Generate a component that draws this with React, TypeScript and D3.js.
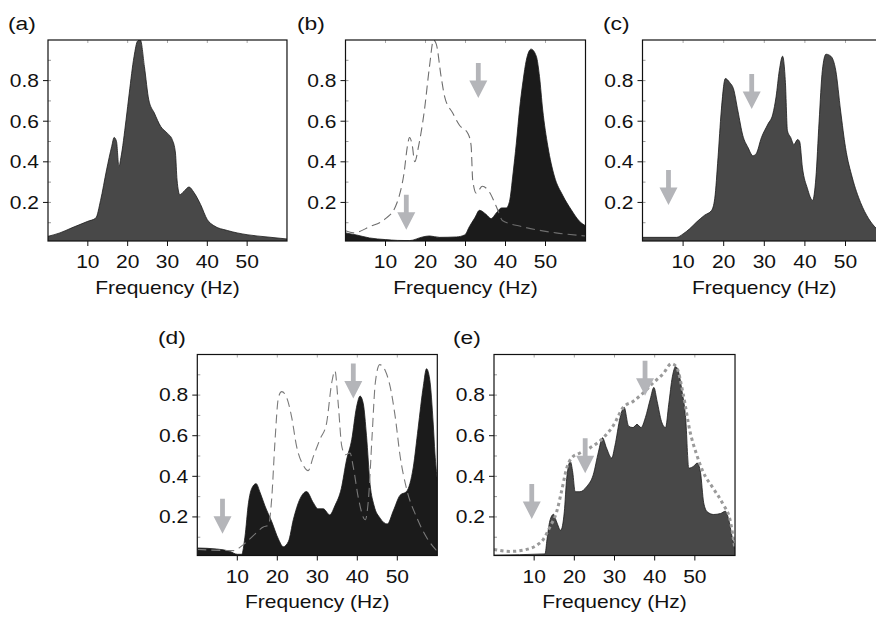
import React from "react";
import * as d3 from "d3";

// ---------- data ----------
const FREQ_TICKS = [10, 20, 30, 40, 50];
const VAL_TICKS = [0.2, 0.4, 0.6, 0.8];
const MINOR_VAL_TICKS = [0.1, 0.3, 0.5, 0.7, 0.9];
const FREQ_LABEL = "Frequency (Hz)";

// (a)
const aHz = [0, 3, 6, 10, 12, 13.2, 14.7, 16, 16.6, 17.2, 17.8, 18.3, 19.6, 20.4, 21.6, 22.5, 23.2, 24.2, 25.3, 26.7, 28.3, 30, 31.2, 32, 32.4, 33.1, 34.1, 35.4, 36.6, 38.3, 40, 41.6, 45, 50, 55, 60];
const aVal = [0.033, 0.05, 0.075, 0.107, 0.123, 0.21, 0.36, 0.476, 0.52, 0.5, 0.377, 0.42, 0.607, 0.738, 0.918, 0.995, 1.0, 0.87, 0.705, 0.64, 0.574, 0.54, 0.509, 0.443, 0.31, 0.238, 0.254, 0.276, 0.25, 0.19, 0.115, 0.086, 0.062, 0.041, 0.03, 0.02];

// (b)
const bHz = [0, 2.7, 6, 10, 13, 16, 19.3, 21, 23.5, 27.7, 29.8, 31, 32.3, 33.5, 35.2, 36.4, 37.7, 39, 40.2, 41, 41.9, 42.7, 43.5, 44.4, 45.2, 46.4, 47.7, 48.5, 49.3, 50.6, 52.2, 54.3, 56.4, 58.5, 60];
const bVal = [0.05, 0.04, 0.025, 0.017, 0.013, 0.012, 0.03, 0.035, 0.028, 0.03, 0.04, 0.082, 0.123, 0.161, 0.14, 0.12, 0.148, 0.173, 0.173, 0.205, 0.345, 0.49, 0.656, 0.8, 0.9, 0.955, 0.92, 0.82, 0.656, 0.475, 0.33, 0.235, 0.165, 0.107, 0.085];
const bRefHz = [0, 2, 6, 10, 12.5, 13.4, 14.6, 15.5, 16, 16.7, 17.3, 18.3, 19.7, 21, 22, 22.7, 23.9, 24.8, 26.8, 28.5, 30.6, 31.4, 31.8, 32.7, 34.2, 36, 37.7, 39.3, 44.3, 52.6, 60];
const bRefVal = [0.06, 0.05, 0.08, 0.12, 0.18, 0.23, 0.34, 0.48, 0.52, 0.48, 0.4, 0.48, 0.65, 0.87, 1.0, 0.98, 0.82, 0.72, 0.64, 0.58, 0.54, 0.48, 0.31, 0.245, 0.28, 0.25, 0.18, 0.11, 0.08, 0.05, 0.035];
const bArrowHz = [15.2, 33.2];
const bArrowTip = [0.066, 0.714];

// (c)
const cHz = [0, 8.4, 10, 11.6, 13.3, 15.3, 17, 17.8, 18.6, 19.4, 20.4, 21.5, 22.4, 23.5, 24.7, 26, 27.2, 28, 29.3, 30.9, 32.1, 32.9, 33.7, 34.5, 35.2, 35.7, 36.5, 37.3, 38.2, 38.7, 39.4, 40.6, 41.9, 42.7, 43.5, 44.3, 45.2, 46.4, 47.6, 48.8, 50, 51.7, 53.7, 55.7, 57.2, 60];
const cVal = [0.028, 0.028, 0.045, 0.07, 0.103, 0.137, 0.16, 0.22, 0.42, 0.65, 0.81, 0.79, 0.76, 0.65, 0.53, 0.47, 0.43, 0.44, 0.52, 0.586, 0.635, 0.72, 0.85, 0.92, 0.79, 0.553, 0.52, 0.485, 0.51, 0.5, 0.37, 0.27, 0.21, 0.32, 0.6, 0.85, 0.93, 0.92, 0.85, 0.65, 0.47, 0.32, 0.2, 0.12, 0.08, 0.04];
const cArrowHz = [6.4, 26.9];
const cArrowTip = [0.187, 0.66];

// (d)
const dHz = [0, 4.8, 8.2, 10, 11.1, 11.9, 12.8, 13.6, 14.7, 15.7, 16.9, 18.6, 20.3, 21.5, 22.8, 24, 25.7, 27.3, 29, 30.2, 31.5, 33.1, 34.4, 36, 37.3, 38.6, 39.8, 40.7, 41.5, 42.3, 43.2, 44.2, 45.7, 47.5, 49, 50.7, 52.3, 54, 55.2, 56.5, 57.3, 58.1, 59, 59.4, 60];
const dVal = [0.047, 0.042, 0.03, 0.016, 0.016, 0.1, 0.27, 0.34, 0.364, 0.32, 0.255, 0.177, 0.09, 0.053, 0.08, 0.186, 0.29, 0.325, 0.27, 0.24, 0.24, 0.21, 0.255, 0.34, 0.48, 0.58, 0.74, 0.795, 0.757, 0.6, 0.36, 0.255, 0.194, 0.165, 0.23, 0.307, 0.325, 0.445, 0.636, 0.843, 0.93, 0.878, 0.653, 0.515, 0.38];
const dRefHz = [0, 9, 11.6, 14, 16.5, 17.8, 18.6, 19.4, 20.3, 21.1, 22.3, 23.6, 24.8, 26.5, 27.7, 29, 30.7, 32.3, 33.6, 34.4, 35.3, 36.1, 37, 38.2, 39, 40.3, 42, 42.8, 43.7, 44.5, 45.6, 47, 48.2, 49.5, 50.7, 52.3, 54.8, 57.3, 60];
const dRefVal = [0.04, 0.034, 0.065, 0.108, 0.15, 0.16, 0.29, 0.566, 0.79, 0.817, 0.79, 0.69, 0.55, 0.454, 0.428, 0.497, 0.584, 0.66, 0.86, 0.92, 0.74, 0.55, 0.506, 0.515, 0.445, 0.29, 0.186, 0.29, 0.6, 0.86, 0.95, 0.92, 0.843, 0.69, 0.5, 0.34, 0.2, 0.1, 0.03];
const dArrowHz = [6.3, 39];
const dArrowTip = [0.117, 0.783];

// (e)
const eHz = [0, 12.7, 13.2, 13.9, 14.8, 15.6, 16.6, 17.5, 18.1, 19, 19.6, 20.2, 21.4, 23.1, 24.7, 26, 27, 28, 29.3, 30.1, 31.4, 32.4, 33.5, 34.6, 35.6, 36.6, 37.7, 38.9, 39.8, 40.6, 41.7, 42.7, 43.5, 44.4, 45.2, 46, 46.8, 47.7, 48.5, 49.7, 50.6, 51.4, 52.2, 53.1, 54.7, 56.4, 57.6, 58.4, 59.2, 60];
const eVal = [0.012, 0.018, 0.09, 0.18, 0.213, 0.175, 0.134, 0.225, 0.39, 0.473, 0.42, 0.324, 0.324, 0.35, 0.407, 0.52, 0.59, 0.54, 0.49, 0.55, 0.69, 0.74, 0.647, 0.64, 0.656, 0.64, 0.69, 0.78, 0.838, 0.77, 0.67, 0.64, 0.755, 0.89, 0.94, 0.91, 0.82, 0.69, 0.44, 0.45, 0.465, 0.42, 0.27, 0.225, 0.212, 0.217, 0.228, 0.19, 0.11, 0.042];
const eRefHz = [0, 4, 8.1, 10.6, 12.3, 13.9, 15.6, 16.8, 18.1, 19.3, 21.4, 23.9, 27.2, 29.7, 32.2, 34.7, 37.1, 39.6, 42.1, 44.2, 45.4, 47.1, 48.8, 50.4, 52.1, 54.6, 57.1, 58.7, 60];
const eRefVal = [0.04, 0.03, 0.04, 0.06, 0.09, 0.15, 0.225, 0.325, 0.44, 0.49, 0.515, 0.54, 0.59, 0.65, 0.74, 0.77, 0.81, 0.86, 0.905, 0.955, 0.94, 0.805, 0.62, 0.51, 0.42, 0.34, 0.26, 0.19, 0.04];
const eArrowHz = [9.4, 22.7, 37.6];
const eArrowTip = [0.19, 0.415, 0.797];

// ---------- styling / layout ----------
const W = 876;
const H = 620;
const FONT = "'Liberation Sans', Arial, Helvetica, sans-serif";
const STRETCH = 1.2;
const Y_MIN = 0.01;
const GREY_FILL = "#484848";
const BLACK_FILL = "#1b1b1b";
const ARROW = "#b4b5b9";

type RefStyle = { color: string; width: number; dash: string; cap: "butt" | "round" | "square" };

type Spec = {
  id: string;
  label: string;
  labelX: number;
  labelY: number;
  left: number;
  top: number;
  pxPerHz: number;
  height: number;
  fillHz: number[];
  fillVal: number[];
  fillColor: string;
  refHz?: number[];
  refVal?: number[];
  refStyle?: RefStyle;
  arrowHz: number[];
  arrowTip: number[];
};

const DASHED: RefStyle = { color: "#6e6e6e", width: 1.1, dash: "9 5", cap: "butt" };
const DASHED_D: RefStyle = { color: "#7a7a7a", width: 1.1, dash: "9 5", cap: "butt" };
const DOTTED: RefStyle = { color: "#9a9a9a", width: 3, dash: "3.2 3.2", cap: "butt" };

const SPECS: Spec[] = [
  { id: "a", label: "(a)", labelX: 8, labelY: 29.5, left: 48, top: 40, pxPerHz: 3.983, height: 201, fillHz: aHz, fillVal: aVal, fillColor: GREY_FILL, arrowHz: [], arrowTip: [] },
  { id: "b", label: "(b)", labelX: 297, labelY: 29.5, left: 345.5, top: 40, pxPerHz: 4.0, height: 201, fillHz: bHz, fillVal: bVal, fillColor: BLACK_FILL, refHz: bRefHz, refVal: bRefVal, refStyle: DASHED, arrowHz: bArrowHz, arrowTip: bArrowTip },
  { id: "c", label: "(c)", labelX: 603, labelY: 29.5, left: 642.5, top: 40, pxPerHz: 4.06, height: 201, fillHz: cHz, fillVal: cVal, fillColor: GREY_FILL, arrowHz: cArrowHz, arrowTip: cArrowTip },
  { id: "d", label: "(d)", labelX: 158, labelY: 343.5, left: 197.3, top: 354.5, pxPerHz: 4.0, height: 201, fillHz: dHz, fillVal: dVal, fillColor: BLACK_FILL, refHz: dRefHz, refVal: dRefVal, refStyle: DASHED_D, arrowHz: dArrowHz, arrowTip: dArrowTip },
  { id: "e", label: "(e)", labelX: 453, labelY: 343.5, left: 494, top: 354.5, pxPerHz: 4.017, height: 201, fillHz: eHz, fillVal: eVal, fillColor: GREY_FILL, refHz: eRefHz, refVal: eRefVal, refStyle: DOTTED, arrowHz: eArrowHz, arrowTip: eArrowTip },
];

function Txt({ x, y, size, anchor, children }: { x: number; y: number; size: number; anchor: "start" | "middle" | "end"; children: React.ReactNode }) {
  return (
    <text
      transform={`translate(${x},${y}) scale(${STRETCH},1)`}
      fontFamily={FONT}
      fontSize={size}
      textAnchor={anchor}
      fill="#111"
    >
      {children}
    </text>
  );
}

function ArrowMark({ x, tipY }: { x: number; tipY: number }) {
  const len = 35;
  const headLen = 17.5;
  const headHalf = 9;
  const shaftHalf = 2.4;
  const top = tipY - len;
  const hb = tipY - headLen;
  const d = `M${x - shaftHalf},${top} L${x + shaftHalf},${top} L${x + shaftHalf},${hb} L${x + headHalf},${hb} L${x},${tipY} L${x - headHalf},${hb} L${x - shaftHalf},${hb} Z`;
  return <path d={d} fill={ARROW} />;
}

function Panel({ s }: { s: Spec }) {
  const right = s.left + s.pxPerHz * 60;
  const bottom = s.top + s.height;
  const x = d3.scaleLinear().domain([0, 60]).range([s.left, right]);
  const y = d3.scaleLinear().domain([Y_MIN, 1]).range([bottom, s.top]);
  const pts: [number, number][] = s.fillHz.map((h, i) => [h, s.fillVal[i]]);
  const area = d3
    .area<[number, number]>()
    .x((d) => x(d[0]))
    .y0(y(Y_MIN))
    .y1((d) => y(d[1]))
    .curve(d3.curveMonotoneX);
  const outline = d3
    .line<[number, number]>()
    .x((d) => x(d[0]))
    .y((d) => y(d[1]))
    .curve(d3.curveMonotoneX);
  let refPath: string | null = null;
  if (s.refHz && s.refVal) {
    const rp: [number, number][] = s.refHz.map((h, i) => [h, s.refVal![i]]);
    refPath = outline(rp);
  }
  const clipId = `clip-${s.id}`;
  return (
    <g>
      <defs>
        <clipPath id={clipId}>
          <rect x={s.left} y={s.top} width={right - s.left} height={s.height} />
        </clipPath>
      </defs>
      <g clipPath={`url(#${clipId})`}>
        <path d={area(pts) || ""} fill={s.fillColor} />
        <path d={outline(pts) || ""} fill="none" stroke="#1a1a1a" strokeWidth={0.8} />
        {refPath && s.refStyle && (
          <path
            d={refPath}
            fill="none"
            stroke={s.refStyle.color}
            strokeWidth={s.refStyle.width}
            strokeDasharray={s.refStyle.dash}
            strokeLinecap={s.refStyle.cap}
          />
        )}
        {s.arrowHz.map((h, i) => (
          <ArrowMark key={i} x={x(h)} tipY={y(s.arrowTip[i])} />
        ))}
      </g>
      {/* minor ticks */}
      {MINOR_VAL_TICKS.map((v) => (
        <line key={`mv${v}`} x1={s.left} x2={s.left + 3} y1={y(v)} y2={y(v)} stroke="#999" strokeWidth={1} />
      ))}
      {VAL_TICKS.map((v) => (
        <line key={`iv${v}`} x1={s.left} x2={s.left + 3} y1={y(v)} y2={y(v)} stroke="#999" strokeWidth={1} />
      ))}
      {FREQ_TICKS.map((f) => (
        <line key={`tf${f}`} x1={x(f)} x2={x(f)} y1={s.top} y2={s.top + 3} stroke="#aaa" strokeWidth={1} />
      ))}
      {/* frame */}
      <rect x={s.left} y={s.top} width={right - s.left} height={s.height} fill="none" stroke="#111" strokeWidth={1.2} />
      {/* x ticks */}
      {FREQ_TICKS.map((f) => (
        <g key={`xf${f}`}>
          <line x1={x(f)} x2={x(f)} y1={bottom} y2={bottom + 5} stroke="#111" strokeWidth={1} />
          <Txt x={x(f)} y={bottom + 27} size={17.5} anchor="middle">{f}</Txt>
        </g>
      ))}
      {/* y ticks */}
      {VAL_TICKS.map((v) => (
        <g key={`yv${v}`}>
          <line x1={s.left - 5} x2={s.left} y1={y(v)} y2={y(v)} stroke="#111" strokeWidth={1} />
          <Txt x={s.left - 9} y={y(v) + 6.3} size={17.5} anchor="end">{v.toFixed(1)}</Txt>
        </g>
      ))}
      <Txt x={(s.left + s.left + s.pxPerHz * 60) / 2} y={bottom + 52.5} size={17.5} anchor="middle">{FREQ_LABEL}</Txt>
      <Txt x={s.labelX} y={s.labelY} size={19} anchor="start">{s.label}</Txt>
    </g>
  );
}

export default function App() {
  return (
    <svg
      width={W}
      height={H}
      viewBox={`0 0 ${W} ${H}`}
      style={{ position: "absolute", left: 0, top: 0, background: "#fff" }}
    >
      <rect x={0} y={0} width={W} height={H} fill="#fff" />
      {SPECS.map((s) => (
        <Panel key={s.id} s={s} />
      ))}
    </svg>
  );
}
